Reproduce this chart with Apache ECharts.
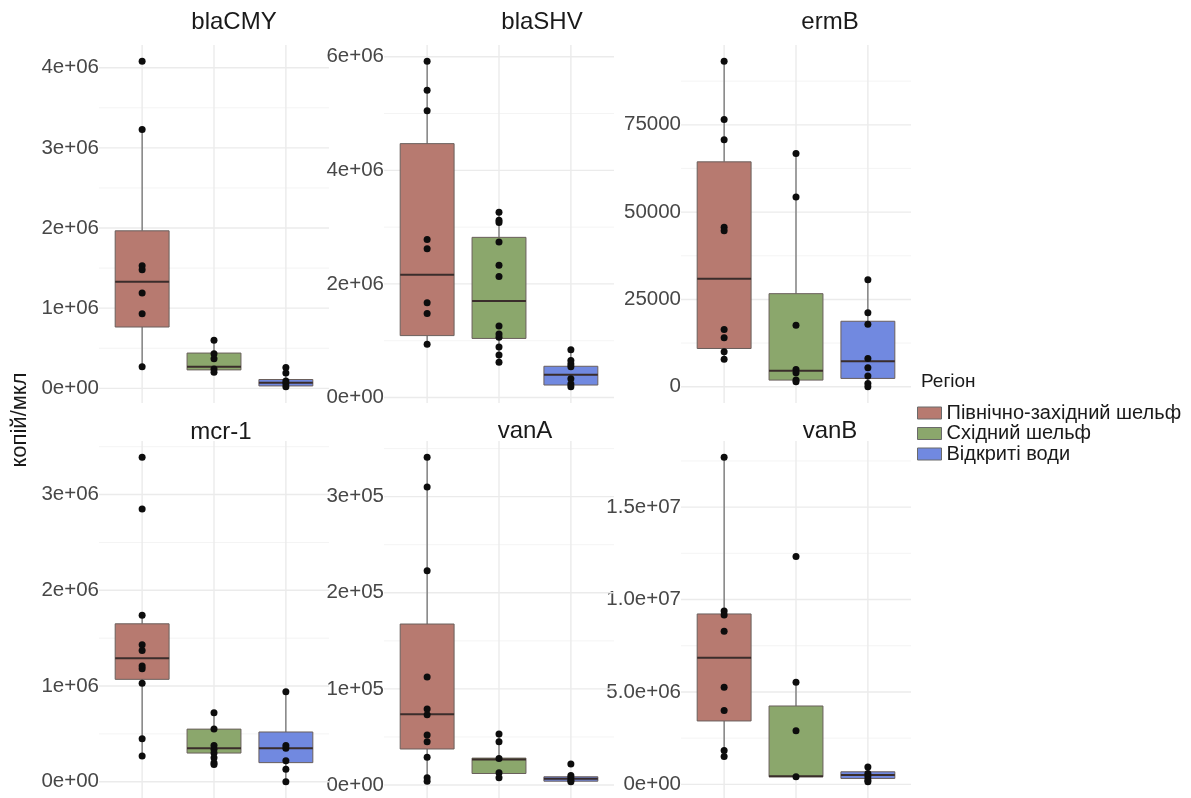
<!DOCTYPE html>
<html><head><meta charset="utf-8">
<script src="https://cdn.jsdelivr.net/npm/echarts@6/dist/echarts.min.js"></script>
<style>html,body{margin:0;padding:0;background:#fff}#c{width:1191px;height:798px}</style>
</head><body><div id="c"></div>
<script>
// ---------- DATA ----------
const REGIONS = ['Північно-західний шельф', 'Східний шельф', 'Відкриті води'];
const CATEGORY_X = [1, 2, 3];
const GENES = ['blaCMY', 'blaSHV', 'ermB', 'mcr-1', 'vanA', 'vanB'];

// box stats per region: [min, Q1, median, Q3, max]
const blaCMY_box = [[0.27e6, 0.765e6, 1.33e6, 1.965e6, 3.23e6], [0.20e6, 0.23e6, 0.27e6, 0.44e6, 0.60e6], [0.02e6, 0.03e6, 0.07e6, 0.11e6, 0.19e6]];
const blaCMY_points = [[4.08e6, 3.23e6, 1.53e6, 1.48e6, 1.19e6, 0.93e6, 0.27e6], [0.60e6, 0.43e6, 0.37e6, 0.24e6, 0.20e6], [0.26e6, 0.19e6, 0.09e6, 0.06e6, 0.02e6]];
const blaCMY_ticks = [0, 1e6, 2e6, 3e6, 4e6];
const blaCMY_labels = ['0e+00', '1e+06', '2e+06', '3e+06', '4e+06'];
const blaCMY_minor = [0.5e6, 1.5e6, 2.5e6, 3.5e6];

const blaSHV_box = [[0.94e6, 1.09e6, 2.16e6, 4.47e6, 5.92e6], [0.62e6, 1.04e6, 1.70e6, 2.82e6, 3.26e6], [0.19e6, 0.22e6, 0.40e6, 0.55e6, 0.84e6]];
const blaSHV_points = [[5.92e6, 5.41e6, 5.05e6, 2.78e6, 2.62e6, 1.67e6, 1.48e6, 0.94e6], [3.26e6, 3.12e6, 3.08e6, 2.74e6, 2.33e6, 2.13e6, 1.26e6, 1.12e6, 1.06e6, 0.89e6, 0.75e6, 0.62e6], [0.84e6, 0.65e6, 0.59e6, 0.54e6, 0.33e6, 0.24e6, 0.19e6]];
const blaSHV_ticks = [0, 2e6, 4e6, 6e6];
const blaSHV_labels = ['0e+00', '2e+06', '4e+06', '6e+06'];
const blaSHV_minor = [1e6, 3e6, 5e6];

const ermB_box = [[7900, 10950, 30900, 64400, 93200], [1400, 1900, 4570, 26650, 66800], [0, 2380, 7330, 18750, 30650]];
const ermB_points = [[93200, 76500, 70700, 45700, 44700, 16400, 14000, 10000, 7900], [66800, 54300, 17600, 4950, 4000, 1900, 1400], [30650, 21200, 17900, 8100, 5400, 3050, 950, 0]];
const ermB_ticks = [0, 25000, 50000, 75000];
const ermB_labels = ['0', '25000', '50000', '75000'];
const ermB_minor = [12500, 37500, 62500, 87500];

const mcr1_box = [[0.27e6, 1.07e6, 1.29e6, 1.65e6, 1.74e6], [0.18e6, 0.30e6, 0.35e6, 0.55e6, 0.72e6], [0, 0.20e6, 0.35e6, 0.52e6, 0.94e6]];
const mcr1_points = [[3.39e6, 2.85e6, 1.74e6, 1.43e6, 1.37e6, 1.21e6, 1.18e6, 1.03e6, 0.45e6, 0.27e6], [0.72e6, 0.55e6, 0.38e6, 0.34e6, 0.30e6, 0.25e6, 0.20e6, 0.18e6], [0.94e6, 0.38e6, 0.35e6, 0.22e6, 0.13e6, 0]];
const mcr1_ticks = [0, 1e6, 2e6, 3e6];
const mcr1_labels = ['0e+00', '1e+06', '2e+06', '3e+06'];
const mcr1_minor = [0.5e6, 1.5e6, 2.5e6, 3.5e6];

const vanA_box = [[0.04e5, 0.375e5, 0.736e5, 1.675e5, 3.41e5], [0.076e5, 0.12e5, 0.265e5, 0.28e5, 0.53e5], [0.034e5, 0.04e5, 0.065e5, 0.086e5, 0.10e5]];
const vanA_points = [[3.41e5, 3.10e5, 2.23e5, 1.125e5, 0.79e5, 0.73e5, 0.52e5, 0.45e5, 0.29e5, 0.076e5, 0.04e5], [0.53e5, 0.45e5, 0.275e5, 0.127e5, 0.076e5], [0.22e5, 0.10e5, 0.076e5, 0.048e5, 0.034e5]];
const vanA_ticks = [0, 1e5, 2e5, 3e5];
const vanA_labels = ['0e+00', '1e+05', '2e+05', '3e+05'];
const vanA_minor = [0.5e5, 1.5e5, 2.5e5, 3.5e5];

const vanB_box = [[0.151e7, 0.343e7, 0.685e7, 0.922e7, 1.770e7], [0.041e7, 0.041e7, 0.044e7, 0.424e7, 0.553e7], [0.014e7, 0.032e7, 0.05e7, 0.068e7, 0.094e7]];
const vanB_points = [[1.770e7, 0.938e7, 0.916e7, 0.829e7, 0.525e7, 0.400e7, 0.183e7, 0.151e7], [1.233e7, 0.553e7, 0.29e7, 0.041e7], [0.094e7, 0.059e7, 0.041e7, 0.023e7, 0.014e7]];
const vanB_ticks = [0, 5e6, 1e7, 1.5e7];
const vanB_labels = ['0e+00', '5.0e+06', '1.0e+07', '1.5e+07'];
const vanB_minor = [2.5e6, 7.5e6, 1.25e7, 1.75e7];

const Y_NAME = 'копій/мкл';
const LEGEND_TITLE = 'Регіон';

// ---------- STYLE / LAYOUT ----------
const FONT = '"Liberation Sans", Arial, Helvetica, sans-serif';
const COLORS = ['#B77A70', '#8BA76C', '#7189E0'];
const GRID_LEFT = [99, 384, 681];
const GRID_TOP = [45, 441];
const GRID_W = 230, GRID_H = 358;
const TITLE_POS = [[234, 22], [542, 22], [830, 22], [221, 432], [525, 431], [830, 431]];

const panels = [
  { box: blaCMY_box, points: blaCMY_points, ticks: blaCMY_ticks, labels: blaCMY_labels, minor: blaCMY_minor },
  { box: blaSHV_box, points: blaSHV_points, ticks: blaSHV_ticks, labels: blaSHV_labels, minor: blaSHV_minor },
  { box: ermB_box, points: ermB_points, ticks: ermB_ticks, labels: ermB_labels, minor: ermB_minor },
  { box: mcr1_box, points: mcr1_points, ticks: mcr1_ticks, labels: mcr1_labels, minor: mcr1_minor },
  { box: vanA_box, points: vanA_points, ticks: vanA_ticks, labels: vanA_labels, minor: vanA_minor },
  { box: vanB_box, points: vanB_points, ticks: vanB_ticks, labels: vanB_labels, minor: vanB_minor }
];

const option = {
  animation: false,
  backgroundColor: '#ffffff',
  textStyle: { fontFamily: FONT },
  grid: [], xAxis: [], yAxis: [], series: [],
  legend: {
    orient: 'vertical', left: 917, top: 403, padding: 0,
    itemWidth: 24, itemHeight: 12, itemGap: 0.5, icon: 'rect',
    selectedMode: false, data: REGIONS,
    itemStyle: { borderColor: '#6a6a6a', borderWidth: 1 },
    textStyle: { fontSize: 20, lineHeight: 20, color: '#1a1a1a', fontFamily: FONT }
  },
  graphic: []
};

function gridRender(params, api) {
  const cs = params.coordSys;
  const o = api.value(0), v = api.value(1), major = api.value(2);
  const style = { stroke: major ? '#ebebeb' : '#f3f3f3', lineWidth: major ? 1.4 : 0.9 };
  if (o === 0) {
    const y = api.coord([1, v])[1];
    return { type: 'line', shape: { x1: cs.x, y1: y, x2: cs.x + cs.width, y2: y }, style };
  }
  const x = api.coord([v, 0])[0];
  return { type: 'line', shape: { x1: x, y1: cs.y, x2: x, y2: cs.y + cs.height }, style };
}

function boxRender(params, api) {
  const x = api.value(0);
  const pMin = api.coord([x, api.value(1)]);
  const pQ1 = api.coord([x, api.value(2)]);
  const pMed = api.coord([x, api.value(3)]);
  const pQ3 = api.coord([x, api.value(4)]);
  const pMax = api.coord([x, api.value(5)]);
  const w = api.size([0.75, 0])[0];
  const xc = pMed[0];
  const color = api.visual('color');
  return {
    type: 'group',
    children: [
      { type: 'line', shape: { x1: xc, y1: pQ1[1], x2: xc, y2: pMin[1] }, style: { stroke: '#5c5c5c', lineWidth: 1.1 } },
      { type: 'line', shape: { x1: xc, y1: pQ3[1], x2: xc, y2: pMax[1] }, style: { stroke: '#5c5c5c', lineWidth: 1.1 } },
      { type: 'rect', shape: { x: xc - w / 2, y: pQ3[1], width: w, height: pQ1[1] - pQ3[1] }, style: { fill: color, stroke: '#6a5f5c', lineWidth: 1 } },
      { type: 'line', shape: { x1: xc - w / 2, y1: pMed[1], x2: xc + w / 2, y2: pMed[1] }, style: { stroke: '#3a2d2b', lineWidth: 2 } }
    ]
  };
}

panels.forEach((p, i) => {
  const col = i % 3, row = Math.floor(i / 3);
  option.grid.push({ left: GRID_LEFT[col], top: GRID_TOP[row], width: GRID_W, height: GRID_H });
  option.xAxis.push({ type: 'value', gridIndex: i, min: 0.4, max: 3.6, show: false });
  const all = [].concat(...p.box, ...p.points);
  const lo = Math.min(...all), hi = Math.max(...all), pad = (hi - lo) * 0.05;
  const span = hi - lo;
  option.yAxis.push({
    type: 'value', gridIndex: i, min: lo - pad, max: hi + pad,
    axisLine: { show: false }, axisTick: { show: false }, splitLine: { show: false },
    axisLabel: {
      customValues: p.ticks, fontSize: 20.5, color: '#474747', margin: 0, fontFamily: FONT,
      formatter: (v) => {
        const k = p.ticks.findIndex(t => Math.abs(t - v) < span * 1e-6);
        return k >= 0 ? p.labels[k] : '';
      }
    }
  });
  const gridData = [];
  p.minor.forEach(v => gridData.push([0, v, 0]));
  p.ticks.forEach(v => gridData.push([0, v, 1]));
  CATEGORY_X.forEach(c => gridData.push([1, c, 1]));
  option.series.push({ type: 'custom', xAxisIndex: i, yAxisIndex: i, z: 1, silent: true, renderItem: gridRender, data: gridData });
  REGIONS.forEach((r, k) => {
    option.series.push({
      type: 'custom', name: r, xAxisIndex: i, yAxisIndex: i, z: 2, silent: true,
      itemStyle: { color: COLORS[k] }, renderItem: boxRender,
      data: [[CATEGORY_X[k]].concat(p.box[k])]
    });
  });
  const pts = [];
  p.points.forEach((arr, k) => arr.forEach(v => pts.push([CATEGORY_X[k], v])));
  option.series.push({ type: 'scatter', xAxisIndex: i, yAxisIndex: i, z: 3, silent: true, symbolSize: 7, itemStyle: { color: '#0d0d0d', opacity: 1 }, data: pts });
  option.graphic.push({ type: 'text', x: TITLE_POS[i][0], y: TITLE_POS[i][1], style: { text: GENES[i], fontSize: 24, fontFamily: FONT, fill: '#1a1a1a', textAlign: 'center', textVerticalAlign: 'middle' } });
});

option.graphic.push({ type: 'text', x: 20, y: 420, rotation: Math.PI / 2, style: { text: Y_NAME, fontSize: 22, fontFamily: FONT, fill: '#1a1a1a', textAlign: 'center', textVerticalAlign: 'middle' } });
option.graphic.push({ type: 'text', x: 921, y: 382, style: { text: LEGEND_TITLE, fontSize: 19, fontFamily: FONT, fill: '#1a1a1a', textAlign: 'left', textVerticalAlign: 'middle' } });

const chart = echarts.init(document.getElementById('c'), null, { renderer: 'canvas' });
chart.setOption(option);
</script></body></html>
